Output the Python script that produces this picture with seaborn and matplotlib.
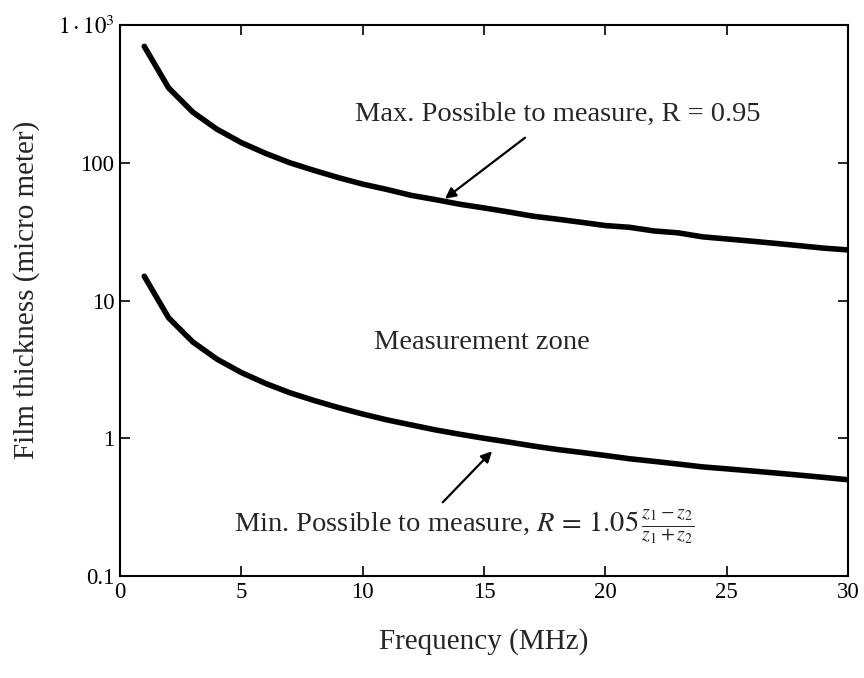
import pandas as pd
import matplotlib.pyplot as plt
import seaborn as sns

# Values
freq_mhz = list(range(1, 31))
max_thickness = [700, 350, 233, 175, 140, 117, 100, 88, 78, 70,
                 64, 58, 54, 50, 47, 44, 41, 39, 37, 35,
                 34, 32, 31, 29, 28, 27, 26, 25, 24, 23.3]
min_thickness = [15, 7.5, 5.0, 3.75, 3.0, 2.5, 2.14, 1.88, 1.67, 1.5,
                 1.36, 1.25, 1.15, 1.07, 1.0, 0.94, 0.88, 0.83, 0.79, 0.75,
                 0.71, 0.68, 0.65, 0.62, 0.6, 0.58, 0.56, 0.54, 0.52, 0.5]
y_ticks = [0.1, 1, 10, 100, 1000]
y_tick_labels = ["0.1", "1", "10", "100", r"$1\cdot10^3$"]
x_ticks = [0, 5, 10, 15, 20, 25, 30]

data = pd.DataFrame({
    "Frequency": freq_mhz * 2,
    "Thickness": max_thickness + min_thickness,
    "Limit": ["max"] * len(freq_mhz) + ["min"] * len(freq_mhz),
})

sns.set_style("ticks")
plt.rcParams["font.family"] = ["Liberation Serif", "DejaVu Serif"]
plt.rcParams["mathtext.fontset"] = "stix"

fig = plt.figure(figsize=(8.64, 6.78), dpi=100)
ax = fig.add_axes([0.1389, 0.1504, 0.8426, 0.8127])

sns.lineplot(data=data, x="Frequency", y="Thickness", units="Limit",
             estimator=None, color="black", linewidth=4, ax=ax)

ax.set_yscale("log")
ax.set_xlim(0, 30)
ax.set_ylim(0.1, 1000)
ax.set_yticks(y_ticks)
ax.set_yticklabels(y_tick_labels)
ax.minorticks_off()
ax.set_xticks(x_ticks)

for s in ax.spines.values():
    s.set_linewidth(1.5)
    s.set_color("black")
ax.tick_params(direction="in", length=7, width=1.2, labelsize=16.5,
               top=True, right=True, pad=4, colors="black")

ax.set_xlabel("Frequency (MHz)", fontsize=21, labelpad=18)
ax.set_ylabel("Film thickness (micro meter)", fontsize=21)
ax.yaxis.set_label_coords(-0.11, 0.52)

arrow = dict(arrowstyle="-|>", color="black", lw=1.6, shrinkA=0, shrinkB=0,
             mutation_scale=16)
ax.text(18.05, 223, "Max. Possible to measure, R = 0.95", fontsize=20.5,
        ha="center", va="center")
ax.annotate("", xy=(13.39, 54.8), xytext=(16.69, 152), arrowprops=arrow)

ax.text(14.9, 4.97, "Measurement zone", fontsize=20.5, ha="center", va="center")

ax.text(14.19, 0.23, r"Min. Possible to measure, $R\,=\,1.05\,\frac{z_1-z_2}{z_1+z_2}$",
        fontsize=20.5, ha="center", va="center")
ax.annotate("", xy=(15.33, 0.805), xytext=(13.3, 0.343), arrowprops=arrow)

if ax.get_legend() is not None:
    ax.get_legend().remove()

fig.savefig("out.png", dpi=100)
